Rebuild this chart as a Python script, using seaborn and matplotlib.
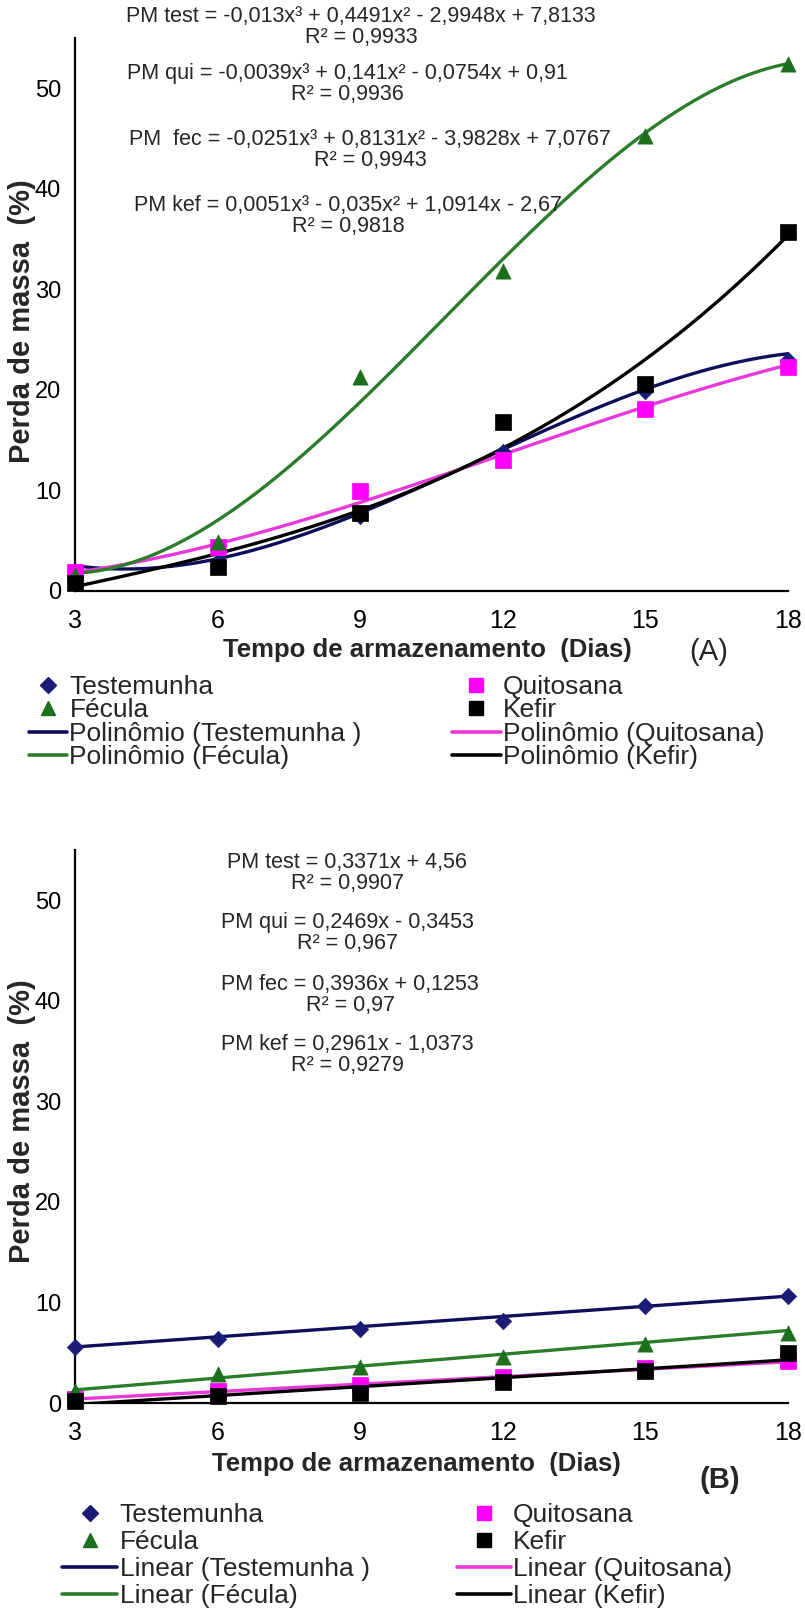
import numpy as np
import pandas as pd
import seaborn as sns
import matplotlib
matplotlib.use("Agg")
import matplotlib.pyplot as plt
from matplotlib.lines import Line2D

# ---------------------------------------------------------------- data
days = [3, 6, 9, 12, 15, 18]
treatments = ["Testemunha", "Quitosana", "Fécula", "Kefir"]

# (A) mass loss (%) over storage time
a_test = [2.0, 3.0, 7.5, 13.8, 19.9, 23.0]
a_qui = [1.9, 4.4, 9.9, 13.0, 18.1, 22.3]
a_fec = [1.6, 4.9, 21.3, 31.8, 45.3, 52.4]
a_kef = [0.8, 2.4, 7.8, 16.8, 20.6, 35.7]

# (A) cubic trend coefficients: x³, x², x, constant
a_coef_test = [-0.013, 0.4491, -2.9948, 7.8133]
a_coef_qui = [-0.0039, 0.141, -0.0754, 0.91]
a_coef_fec = [-0.0251, 0.8131, -3.9828, 7.0767]
a_coef_kef = [0.0051, -0.035, 1.0914, -2.67]
a_r2 = [0.9933, 0.9936, 0.9943, 0.9818]
a_names = ["PM test", "PM qui", "PM  fec", "PM kef"]

# (B) mass loss (%) over storage time
b_test = [5.6, 6.4, 7.4, 8.2, 9.6, 10.6]
b_qui = [0.4, 1.2, 1.8, 2.6, 3.5, 4.2]
b_fec = [1.2, 2.9, 3.6, 4.6, 5.9, 7.0]
b_kef = [0.2, 0.7, 1.0, 2.1, 3.2, 5.0]

# (B) linear trend coefficients: slope, intercept
b_coef_test = [0.3371, 4.56]
b_coef_qui = [0.2469, -0.3453]
b_coef_fec = [0.3936, 0.1253]
b_coef_kef = [0.2961, -1.0373]
b_r2 = [0.9907, 0.967, 0.97, 0.9279]
b_names = ["PM test", "PM qui", "PM fec", "PM kef"]

y_ticks = [0, 10, 20, 30, 40, 50]

# ---------------------------------------------------------------- style
sns.set_style("white")
plt.rcParams["font.family"] = ["Liberation Sans", "DejaVu Sans"]
plt.rcParams["axes.unicode_minus"] = False

colors = {"Testemunha": "#1b1b78", "Quitosana": "#ff00ff",
          "Fécula": "#1d6e1d", "Kefir": "#000000"}
line_colors = {"Testemunha": "#0e0e5a", "Quitosana": "#e838d8",
               "Fécula": "#2b7d2b", "Kefir": "#000000"}
markers = {"Testemunha": "D", "Quitosana": "s", "Fécula": "^", "Kefir": "s"}
msizes = {"Testemunha": 70, "Quitosana": 125, "Fécula": 120, "Kefir": 125}

W, H = 805, 1613
fig = plt.figure(figsize=(W / 100, H / 100), dpi=100)


def px_box(left, right, top, bottom):
    return [left / W, 1 - bottom / H, (right - left) / W, (bottom - top) / H]


def fx(x):
    return x / W


def fy(y):
    return 1 - y / H


def num(v):
    return str(abs(v)).replace(".", ",")


def sign(v):
    return "-" if v < 0 else "+"


def cubic_label(name, c, r2):
    s = f"{name} = {'-' if c[0] < 0 else ''}{num(c[0])}x³"
    s += f" {sign(c[1])} {num(c[1])}x² {sign(c[2])} {num(c[2])}x"
    s += f" {sign(c[3])} {num(c[3])}"
    return s + f"\nR² = {num(r2)}"


def linear_label(name, c, r2):
    s = f"{name} = {num(c[0])}x {sign(c[1])} {num(c[1])}"
    return s + f"\nR² = {num(r2)}"


def style_axes(ax):
    ax.set_xlim(3, 18)
    ax.set_ylim(0, 55)
    ax.set_xticks(days)
    ax.set_yticks(y_ticks)
    for side in ("top", "right"):
        ax.spines[side].set_visible(False)
    for side in ("left", "bottom"):
        ax.spines[side].set_color("black")
        ax.spines[side].set_linewidth(1.6)
    ax.tick_params(axis="x", direction="out", length=7, width=1.4,
                   pad=6, labelsize=18, colors="black")
    ax.tick_params(axis="y", direction="out", length=6, width=1.4,
                   pad=4, labelsize=17, colors="black")
    ax.set_xlabel("")
    ax.set_ylabel("")


def draw_panel(ax, values, curves):
    xs = np.linspace(3, 18, 300)
    order = ["Testemunha", "Quitosana", "Fécula", "Kefir"]
    for name in order:
        ys = np.polyval(curves[name], xs)
        sns.lineplot(x=xs, y=ys, ax=ax, color=line_colors[name], lw=2.4,
                     legend=False, zorder=2)
    for name in order:
        df = pd.DataFrame({"dia": days, "perda": values[name]})
        sns.scatterplot(data=df, x="dia", y="perda", ax=ax,
                        marker=markers[name], s=msizes[name],
                        color=colors[name], edgecolor=colors[name],
                        linewidth=0.5, legend=False, zorder=3, clip_on=False)
    style_axes(ax)


def legend_column(entries, x_left, y_top, handlelength, spacing):
    hs, labs = [], []
    for name, text, is_line in entries:
        if is_line:
            hs.append(Line2D([], [], color=line_colors[name], lw=2.6))
        else:
            hs.append(Line2D([], [], ls="none", marker=markers[name],
                             color=colors[name],
                             markersize=8 if name == "Testemunha" else 10))
        labs.append(text)
    fig.legend(hs, labs, loc="upper left",
               bbox_to_anchor=(fx(x_left), fy(y_top)),
               frameon=False, borderpad=0, borderaxespad=0,
               handlelength=handlelength, handletextpad=0.08,
               labelspacing=spacing, prop={"size": 19})


def panel_legend(kind, x1, x2, y_top, hl1, hl2, spacing):
    col1 = [("Testemunha", "Testemunha", False),
            ("Fécula", "Fécula", False),
            ("Testemunha", f"{kind} (Testemunha )", True),
            ("Fécula", f"{kind} (Fécula)", True)]
    col2 = [("Quitosana", "Quitosana", False),
            ("Kefir", "Kefir", False),
            ("Quitosana", f"{kind} (Quitosana)", True),
            ("Kefir", f"{kind} (Kefir)", True)]
    legend_column(col1, x1, y_top, hl1, spacing)
    legend_column(col2, x2, y_top, hl2, spacing)


# ---------------------------------------------------------------- panel A
ax_a = fig.add_axes(px_box(75, 788, 38, 591))
draw_panel(
    ax_a,
    {"Testemunha": a_test, "Quitosana": a_qui, "Fécula": a_fec, "Kefir": a_kef},
    {"Testemunha": a_coef_test, "Quitosana": a_coef_qui,
     "Fécula": a_coef_fec, "Kefir": a_coef_kef},
)
a_coefs = [a_coef_test, a_coef_qui, a_coef_fec, a_coef_kef]
a_pos = [(361, 27), (347, 84), (370, 150), (348, 216)]
for name, c, r2, (px, py) in zip(a_names, a_coefs, a_r2, a_pos):
    fig.text(fx(px), fy(py), cubic_label(name, c, r2), ha="center",
             va="center", ma="center", fontsize=15.5, linespacing=1.05)

fig.text(fx(22), fy(321), "Perda de massa  (%)", rotation=90,
         ha="center", va="center", fontsize=21, fontweight="bold")
fig.text(fx(427), fy(650), "Tempo de armazenamento  (Dias)",
         ha="center", va="center", fontsize=18.5, fontweight="bold")
fig.text(fx(709), fy(652), "(A)", ha="center", va="center", fontsize=21)
panel_legend("Polinômio", 29, 452, 675, 1.45, 1.85, -0.02)

# ---------------------------------------------------------------- panel B
ax_b = fig.add_axes(px_box(75, 788, 850, 1403))
draw_panel(
    ax_b,
    {"Testemunha": b_test, "Quitosana": b_qui, "Fécula": b_fec, "Kefir": b_kef},
    {"Testemunha": b_coef_test, "Quitosana": b_coef_qui,
     "Fécula": b_coef_fec, "Kefir": b_coef_kef},
)
b_coefs = [b_coef_test, b_coef_qui, b_coef_fec, b_coef_kef]
b_pos = [(347, 873), (347, 933), (350, 995), (347, 1055)]
for name, c, r2, (px, py) in zip(b_names, b_coefs, b_r2, b_pos):
    fig.text(fx(px), fy(py), linear_label(name, c, r2), ha="center",
             va="center", ma="center", fontsize=15.5, linespacing=1.05)

fig.text(fx(22), fy(1121), "Perda de massa  (%)", rotation=90,
         ha="center", va="center", fontsize=21, fontweight="bold")
fig.text(fx(416), fy(1464), "Tempo de armazenamento  (Dias)",
         ha="center", va="center", fontsize=18.5, fontweight="bold")
fig.text(fx(720), fy(1480), "(B)", ha="center", va="center", fontsize=21,
         fontweight="bold")
panel_legend("Linear", 62, 457, 1503, 2.1, 2.05, 0.12)

fig.savefig("out.png", dpi=100, facecolor="white")
